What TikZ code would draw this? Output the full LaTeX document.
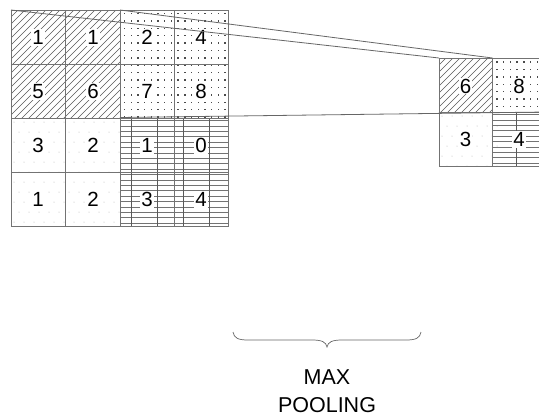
\documentclass[tikz,border=0pt]{standalone}
\usepackage{fontspec}
\setmainfont{Liberation Sans}
\begin{document}
\begin{tikzpicture}[x=1pt,y=-1pt,
  gridline/.style={draw=black!55, line width=1pt},
  hatch/.style={draw=black!65, line width=0.6pt},
  hline/.style={draw=black!55, line width=0.6pt},
  vline/.style={draw=black!65, line width=0.8pt},
  num/.style={font=\fontsize{20.5}{22}\selectfont, fill=white, inner sep=1.2pt, text=black},
  conn/.style={draw=black!60, line width=0.8pt},
  lbl/.style={font=\fontsize{21.5}{24}\selectfont, text=black}]
\clip (0,0) rectangle (539,418);
\fill[white] (0,0) rectangle (539,418);

% ---------- left grid patterns ----------
\begin{scope}
  \clip (11,10) rectangle (120,118);
  \foreach \c in {14,21,...,245} \draw[hatch] (\c-120,120) -- (\c,0);
\end{scope}
\foreach \i in {0,...,15} \foreach \j in {0,...,14}
  \fill[black!70] ({124.5+6.7*\i-0.7},{13.5+7.4*\j-0.7}) rectangle +(1.4,1.4);
\foreach \i in {0,...,10} \foreach \j in {0,...,10}
  \fill[black!30] ({14+10*\i+5*mod(\j,2)},{122+10*\j}) circle (0.5);
\foreach \k in {0,...,19} \draw[hline] (120,{120.5+5.4*\k}) -- (228,{120.5+5.4*\k});
\foreach \x in {131,157,183,209} \draw[vline] (\x,118) -- (\x,226);

% ---------- right grid patterns ----------
\begin{scope}
  \clip (439,58) rectangle (492.5,112);
  \foreach \c in {490,497,...,610} \draw[hatch] (\c-120,120) -- (\c,0);
\end{scope}
\foreach \i in {0,...,8} \foreach \j in {0,...,6}
  \fill[black!70] ({497+6.7*\i-0.7},{62+7.4*\j-0.7}) rectangle +(1.4,1.4);
\foreach \i in {0,...,5} \foreach \j in {0,...,5}
  \fill[black!30] ({442+10*\i+5*mod(\j,2)},{116+10*\j}) circle (0.5);
\foreach \k in {0,...,9} \draw[hline] (492.5,{114.5+5.4*\k}) -- (546,{114.5+5.4*\k});
\draw[vline] (516,112) -- (516,166);

% ---------- grid lines ----------
\draw[gridline] (11,10) rectangle (228,226);
\foreach \x in {65.5,120,174} \draw[gridline] (\x,10) -- (\x,226);
\foreach \y in {64,118,172} \draw[gridline] (11,\y) -- (228,\y);
\draw[gridline] (439,58) rectangle (546,166);
\draw[gridline] (492.5,58) -- (492.5,166);
\draw[gridline] (439,112) -- (546,112);

% ---------- numbers ----------
\node[num] (a11) at (38,37.5) {1};
\node[num] (a12) at (93,37.5) {1};
\node[num] (a13) at (147,37.5) {2};
\node[num] (a14) at (201,37.5) {4};
\node[num] (a21) at (38,91.5) {5};
\node[num] (a22) at (93,91.5) {6};
\node[num] (a23) at (147,91.5) {7};
\node[num] (a24) at (201,91.5) {8};
\node[num] (a31) at (38,145.5) {3};
\node[num] (a32) at (93,145.5) {2};
\node[num] (a33) at (147,145.5) {1};
\node[num] (a34) at (201,145.5) {0};
\node[num] (a41) at (38,199.5) {1};
\node[num] (a42) at (93,199.5) {2};
\node[num] (a43) at (147,199.5) {3};
\node[num] (a44) at (201,199.5) {4};
\node[num] (b11) at (465.5,86) {6};
\node[num] (b12) at (519,86) {8};
\node[num] (b21) at (465.5,139.5) {3};
\node[num] (b22) at (519,139.5) {4};

% ---------- connectors ----------
\coordinate (blkTL) at (11,10);
\coordinate (blkTR) at (120,10);
\coordinate (blkBR) at (120,117.5);
\coordinate (outTL) at (439,58);
\coordinate (outTR) at (492.5,58);
\coordinate (outBR) at (546,112);
\draw[conn] (blkTL) -- (outTL);
\draw[conn] (blkTR) -- (outTR);
\draw[conn] (blkBR) -- (outBR);

% ---------- brace and label ----------
\draw[black!60, line width=0.7pt] (233,332) .. controls (234,338) and (238,340) .. (248,340)
  -- (312,340) .. controls (322,340) and (326,342) .. (327,347)
  .. controls (328,342) and (332,340) .. (342,340) -- (406,340)
  .. controls (416,340) and (420,338) .. (421,332);
\node[lbl] (max) at (327,377.5) {MAX};
\node[lbl] (pool) at (327,405) {POOLING};
\end{tikzpicture}
\end{document}
